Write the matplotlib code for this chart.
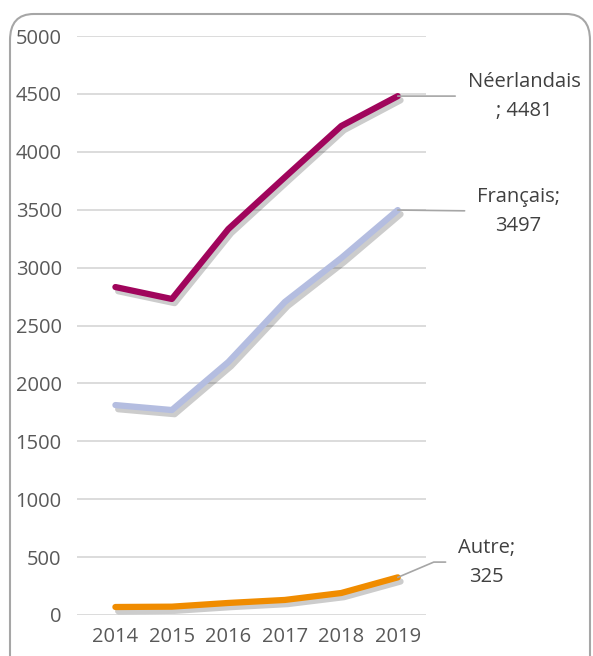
import matplotlib.pyplot as plt
import matplotlib.patheffects as pe
from matplotlib.patches import FancyBboxPatch

plt.rcParams['font.family'] = ['Open Sans', 'DejaVu Sans']

annees = ['2014', '2015', '2016', '2017', '2018', '2019']
neerlandais = [2832, 2729, 3333, 3780, 4223, 4481]
francais = [1813, 1770, 2185, 2703, 3083, 3497]
autre = [69, 72, 104, 130, 190, 325]

# nom, valeurs, couleur, position de l'étiquette (points), forme du trait de rappel
series = [
    ('Néerlandais', neerlandais, '#A0055C', (91, 0), 'arc3'),
    ('Français', francais, '#B4BDE0', (87, -1), 'arc3'),
    ('Autre', autre, '#F08C00', (64, 11), 'angle,angleA=0,angleB=23,rad=0'),
]

fig = plt.figure(figsize=(5.93, 6.56), dpi=100)
ax = fig.add_axes([77 / 593, 1 - 615 / 656, (426 - 77) / 593, (615 - 36) / 656])

# cadre arrondi autour du graphique
cadre = FancyBboxPatch((10 / 593, -0.05), 580 / 593, 1 - 14 / 656 + 0.05,
                       boxstyle='round,pad=0,rounding_size=0.04',
                       transform=fig.transFigure, facecolor='none',
                       edgecolor='#A6A6A6', linewidth=1.5, clip_on=False)
fig.patches.append(cadre)

x = list(range(len(annees)))
ombre = [pe.SimpleLineShadow(offset=(2, -3), shadow_color='black', alpha=0.2),
         pe.Normal()]
for nom, valeurs, couleur, decalage, connexion in series:
    if nom == 'Néerlandais':
        texte = f'{nom}\n; {valeurs[-1]}'
    else:
        texte = f'{nom};\n{valeurs[-1]}'
    ax.plot(x, valeurs, color=couleur, linewidth=4.5, solid_capstyle='round',
            solid_joinstyle='round', path_effects=ombre, zorder=3)
    ax.annotate(texte, xy=(x[-1], valeurs[-1]), xytext=decalage,
                textcoords='offset points', ha='center', va='center',
                fontsize=14.5, color='#404040', linespacing=1.6,
                annotation_clip=False,
                arrowprops=dict(arrowstyle='-', color='#A6A6A6', lw=1.2,
                                shrinkA=7, shrinkB=0, connectionstyle=connexion))

ax.set_xlim(-0.68, 5.5)
ax.set_ylim(0, 5000)
ax.set_yticks(range(0, 5001, 500))
ax.set_xticks(x)
ax.set_xticklabels(annees)
ax.grid(axis='y', color='#D9D9D9', linewidth=1.3)
ax.set_axisbelow(True)
for s in ax.spines.values():
    s.set_visible(False)
ax.tick_params(length=0, labelsize=14.5, labelcolor='#595959')
ax.tick_params(axis='y', pad=11)
ax.tick_params(axis='x', pad=9)

fig.savefig('out.png', dpi=100)
